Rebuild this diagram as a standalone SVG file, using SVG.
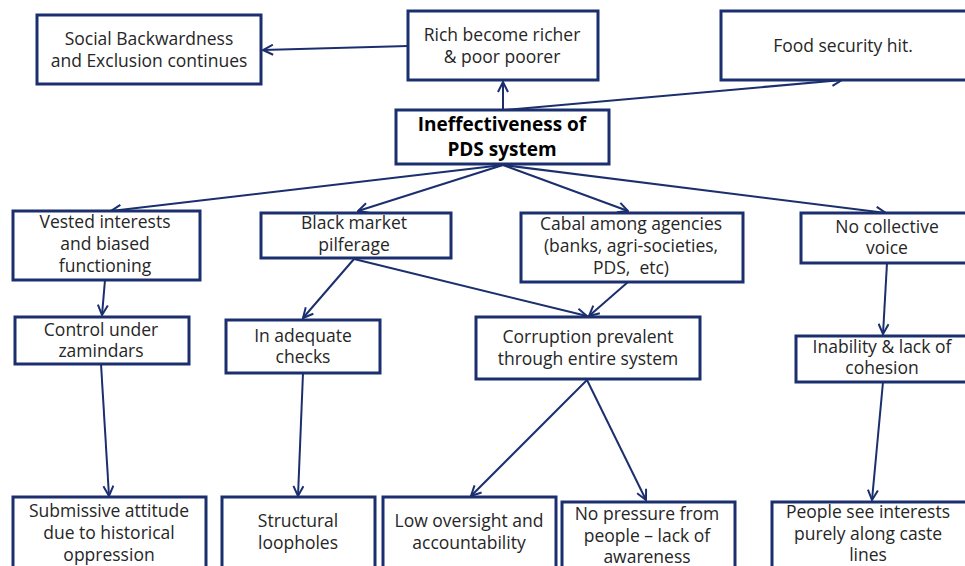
<svg xmlns="http://www.w3.org/2000/svg" width="965" height="566" viewBox="0 0 965 566">
  <style>
    .box { fill: #ffffff; stroke: #1b2f6e; stroke-width: 3; }
    .lbl { font-family: "Open Sans", "Noto Sans", sans-serif; font-size: 17.5px; fill: #262626; text-anchor: middle; white-space: pre; }
    .title { font-family: "Open Sans", "Noto Sans", sans-serif; font-size: 19px; font-weight: bold; fill: #000000; text-anchor: middle; }
    .edge { stroke: #1b2f6e; stroke-width: 2; fill: none; marker-end: url(#arrow); }
  </style>
  <defs>
    <marker id="arrow" viewBox="0 0 12 12" refX="11" refY="6" markerWidth="12" markerHeight="12" markerUnits="userSpaceOnUse" orient="auto">
      <path d="M1,1 L11,6 L1,11" fill="none" stroke="#1b2f6e" stroke-width="2"/>
    </marker>
  </defs>
  <rect width="965" height="566" fill="#ffffff"/>

  <g id="connectors">
    <line class="edge" x1="408" y1="46" x2="263" y2="50"/>
    <line class="edge" x1="503" y1="110" x2="503" y2="82"/>
    <line class="edge" x1="505" y1="110" x2="842" y2="80"/>
    <line class="edge" x1="503" y1="165" x2="111" y2="211"/>
    <line class="edge" x1="503" y1="165" x2="358" y2="211"/>
    <line class="edge" x1="503" y1="165" x2="628" y2="211"/>
    <line class="edge" x1="503" y1="165" x2="886" y2="213"/>
    <line class="edge" x1="105" y1="280" x2="102" y2="315"/>
    <line class="edge" x1="354" y1="259" x2="303" y2="318"/>
    <line class="edge" x1="354" y1="259" x2="587" y2="316"/>
    <line class="edge" x1="628" y1="282" x2="589" y2="316"/>
    <line class="edge" x1="887" y1="263" x2="883" y2="334"/>
    <line class="edge" x1="101" y1="364" x2="109" y2="496"/>
    <line class="edge" x1="303" y1="373" x2="298" y2="496"/>
    <line class="edge" x1="587" y1="380" x2="471" y2="496"/>
    <line class="edge" x1="587" y1="380" x2="646" y2="500"/>
    <line class="edge" x1="883" y1="382" x2="872" y2="500"/>
  </g>

  <g id="social-backwardness">
    <rect class="box" x="37" y="15" width="224" height="69"/>
    <text class="lbl" x="149" y="45">Social Backwardness</text>
    <text class="lbl" x="149" y="67">and Exclusion continues</text>
  </g>
  <g id="rich-richer">
    <rect class="box" x="408" y="11" width="190" height="69"/>
    <text class="lbl" x="502" y="41">Rich become richer</text>
    <text class="lbl" x="502" y="63">&amp; poor poorer</text>
  </g>
  <g id="food-security">
    <rect class="box" x="721" y="11" width="260" height="69"/>
    <text class="lbl" x="843" y="52">Food security hit.</text>
  </g>
  <g id="ineffectiveness">
    <rect class="box" x="396" y="110" width="213" height="54"/>
    <text class="title" x="502" y="131">Ineffectiveness of</text>
    <text class="title" x="502" y="156">PDS system</text>
  </g>
  <g id="vested-interests">
    <rect class="box" x="13" y="211" width="187" height="69"/>
    <text class="lbl" x="105" y="228">Vested interests</text>
    <text class="lbl" x="105" y="250">and biased</text>
    <text class="lbl" x="105" y="272">functioning</text>
  </g>
  <g id="black-market">
    <rect class="box" x="261" y="213" width="190" height="45"/>
    <text class="lbl" x="354" y="229">Black market</text>
    <text class="lbl" x="354" y="251">pilferage</text>
  </g>
  <g id="cabal">
    <rect class="box" x="521" y="213" width="222" height="69"/>
    <text class="lbl" x="631" y="230">Cabal among agencies</text>
    <text class="lbl" x="631" y="252">(banks, agri-societies,</text>
    <text class="lbl" x="631" y="274">PDS,  etc)</text>
  </g>
  <g id="no-collective-voice">
    <rect class="box" x="801" y="213" width="180" height="50"/>
    <text class="lbl" x="887" y="233">No collective</text>
    <text class="lbl" x="887" y="254">voice</text>
  </g>
  <g id="control-zamindars">
    <rect class="box" x="15" y="317" width="174" height="47"/>
    <text class="lbl" x="101" y="336">Control under</text>
    <text class="lbl" x="101" y="357">zamindars</text>
  </g>
  <g id="inadequate-checks">
    <rect class="box" x="226" y="320" width="154" height="53"/>
    <text class="lbl" x="303" y="342">In adequate</text>
    <text class="lbl" x="303" y="363">checks</text>
  </g>
  <g id="corruption">
    <rect class="box" x="476" y="317" width="224" height="62"/>
    <text class="lbl" x="588" y="343">Corruption prevalent</text>
    <text class="lbl" x="588" y="365">through entire system</text>
  </g>
  <g id="inability">
    <rect class="box" x="796" y="336" width="185" height="46"/>
    <text class="lbl" x="882" y="353">Inability &amp; lack of</text>
    <text class="lbl" x="882" y="374">cohesion</text>
  </g>
  <g id="submissive-attitude">
    <rect class="box" x="13" y="497" width="193" height="80"/>
    <text class="lbl" x="109" y="517">Submissive attitude</text>
    <text class="lbl" x="109" y="539">due to historical</text>
    <text class="lbl" x="109" y="561">oppression</text>
  </g>
  <g id="structural-loopholes">
    <rect class="box" x="222" y="497" width="153" height="80"/>
    <text class="lbl" x="298" y="527">Structural</text>
    <text class="lbl" x="298" y="549">loopholes</text>
  </g>
  <g id="low-oversight">
    <rect class="box" x="383" y="497" width="173" height="80"/>
    <text class="lbl" x="469" y="527">Low oversight and</text>
    <text class="lbl" x="469" y="549">accountability</text>
  </g>
  <g id="no-pressure">
    <rect class="box" x="562" y="502" width="173" height="80"/>
    <text class="lbl" x="647" y="520">No pressure from</text>
    <text class="lbl" x="647" y="542">people – lack of</text>
    <text class="lbl" x="647" y="563">awareness</text>
  </g>
  <g id="caste-lines">
    <rect class="box" x="772" y="502" width="210" height="80"/>
    <text class="lbl" x="868" y="518">People see interests</text>
    <text class="lbl" x="868" y="540">purely along caste</text>
    <text class="lbl" x="868" y="561">lines</text>
  </g>
</svg>
